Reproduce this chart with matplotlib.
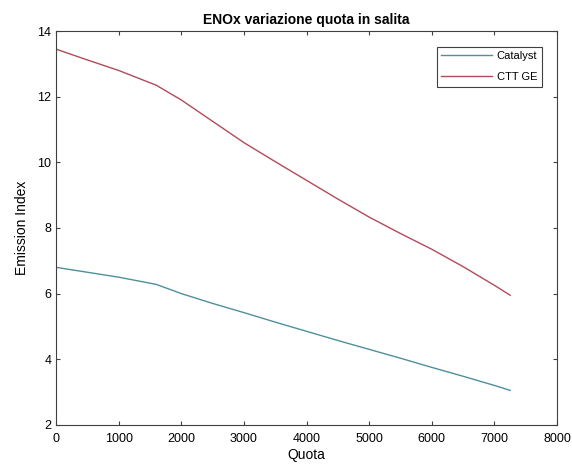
import matplotlib
matplotlib.use("Agg")
import matplotlib.pyplot as plt

plt.rcParams['font.family'] = ['Liberation Sans', 'DejaVu Sans']

quota = [0, 500, 1000, 1600, 2000, 2500, 3000, 3500, 4000, 4500, 5000, 5500, 6000, 6500, 7000, 7250]
catalyst = [6.8, 6.65, 6.5, 6.28, 6.0, 5.7, 5.42, 5.13, 4.85, 4.57, 4.3, 4.03, 3.75, 3.48, 3.2, 3.05]
ctt_ge = [13.45, 13.12, 12.8, 12.35, 11.9, 11.25, 10.6, 10.02, 9.45, 8.88, 8.33, 7.83, 7.35, 6.82, 6.25, 5.95]

fig = plt.figure(figsize=(5.72, 4.71), dpi=100)
ax = fig.add_axes([0.098, 0.098, 0.876, 0.836])
ax.plot(quota, catalyst, color='#4f8f9c', lw=1.0, label='Catalyst')
ax.plot(quota, ctt_ge, color='#b34a5a', lw=1.0, label='CTT GE')
ax.set_xlim(0, 8000)
ax.set_ylim(2, 14)
ax.set_xticks(range(0, 8001, 1000))
ax.set_yticks(range(2, 15, 2))
ax.tick_params(direction='in', length=3, labelsize=9, top=True, right=True, color='#404040')
ax.tick_params(axis='x', pad=6)
for s in ax.spines.values():
    s.set_color('#404040')
    s.set_linewidth(0.8)
ax.set_title('ENOx variazione quota in salita', fontsize=10, fontweight='bold', pad=5)
ax.set_xlabel('Quota', fontsize=10, labelpad=2)
ax.set_ylabel('Emission Index', fontsize=10, labelpad=6)
leg = ax.legend(loc='upper right', fontsize=8, fancybox=False, edgecolor='#404040',
                borderaxespad=1.4, handlelength=4.6, handletextpad=0.4,
                labelspacing=1.0, framealpha=1)
leg.get_frame().set_linewidth(0.8)
fig.savefig('out.png', dpi=100)
